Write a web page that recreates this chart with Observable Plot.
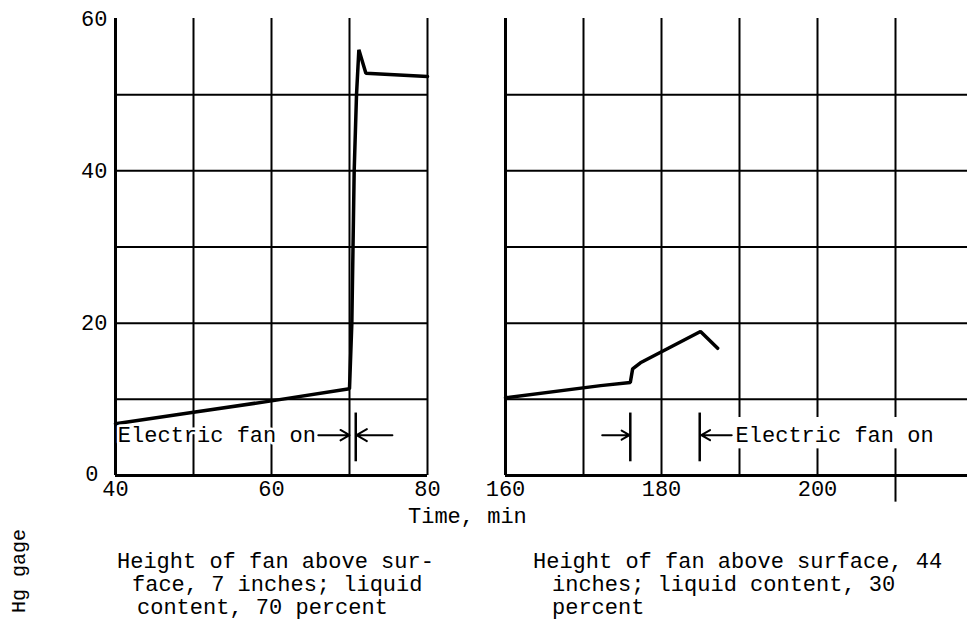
<!DOCTYPE html>
<html>
<head>
<meta charset="utf-8">
<script src="https://cdn.jsdelivr.net/npm/d3@7"></script>
<script src="https://cdn.jsdelivr.net/npm/@observablehq/plot@0.6"></script>
<style>
  html, body { margin: 0; padding: 0; background: white; }
  #wrap { position: relative; width: 967px; height: 626px; overflow: hidden; background: white;
          font-family: "Liberation Mono", "DejaVu Sans Mono", monospace; color: #000; }
  .panel { position: absolute; top: 0; }
  .txt { position: absolute; font-size: 22px; line-height: 23px; white-space: pre; }
</style>
</head>
<body>
<div id="wrap"></div>
<script>
// ---- data ----
// Left panel: fan 7 in. above surface, 70 percent liquid
const leftTime = [40, 50, 60, 70, 70.3, 70.6, 70.9, 71.2, 72.1, 80];
const leftHg   = [6.8, 8.3, 9.8, 11.4, 20, 40, 50, 55.9, 52.8, 52.4];
// Right panel: fan 44 in. above surface, 30 percent liquid
const rightTime = [160, 172.2, 176.0, 176.3, 177.3, 185.0, 187.2];
const rightHg   = [10.2, 11.8, 12.2, 14.0, 14.8, 18.9, 16.7];

const leftXTicks = [40, 60, 80];
const rightXTicks = [160, 180, 200];
const yTicks = [20, 40, 60];
const yZeroTick = [0];
const leftGridX = [50, 60, 70, 80];
const rightGridFullX = [170, 180];
const rightGridBrokenX = [190, 200, 210];
const gridY = [10, 20, 30, 40, 50];

const fanLabel = "Electric fan on";
const leftFanArrowX1 = [66.0, 75.5];
const leftFanArrowX2 = [70.0, 70.9];
const leftFanBarX = [70.8];
const leftFanLabelX = [40.3];
const rightFanArrowX1 = [172.4, 189.0];
const rightFanArrowX2 = [175.9, 185.1];
const rightFanBarX = [176.0, 184.9];
const rightFanLabelX = [189.5];
const fanArrowY = 5.3;
const fanBarY = [1.8, 8.2];
const gridGapY = [3.5, 7.6];
const tickStubY = -3.5;

const xLabel = "Time, min";
const yLabel = "Hg gage";
const leftCaption = ["Height of fan above sur-", "face, 7 inches; liquid", "content, 70 percent"];
const rightCaption = ["Height of fan above surface, 44", "inches; liquid content, 30", "percent"];

// ---- drawing ----
const font = "'Liberation Mono', 'DejaVu Sans Mono', monospace";
const style = {fontFamily: font, fontSize: "22px", background: "white", overflow: "visible", color: "black"};
const yDomain = [0, 60];

const leftLine = leftTime.map((t, i) => ({t, v: leftHg[i]}));
const rightLine = rightTime.map((t, i) => ({t, v: rightHg[i]}));

const leftPlot = Plot.plot({
  width: 480, height: 540,
  marginLeft: 115, marginRight: 53, marginTop: 18, marginBottom: 65,
  x: {domain: [40, 80]},
  y: {domain: yDomain},
  style,
  marks: [
    Plot.ruleX(leftGridX, {strokeWidth: 2}),
    Plot.ruleY(gridY, {strokeWidth: 2}),
    Plot.ruleX([40], {strokeWidth: 3}),
    Plot.ruleY([0], {strokeWidth: 3}),
    Plot.axisX({ticks: leftXTicks, tickSize: 0, tickPadding: 5, fontSize: 22, label: null}),
    Plot.axisY({ticks: yTicks, tickSize: 0, tickPadding: 8, fontSize: 22, label: null}),
    Plot.axisY({ticks: yZeroTick, tickSize: 0, tickPadding: 17, fontSize: 22, label: null, dy: -2}),
    Plot.line(leftLine, {x: "t", y: "v", strokeWidth: 3.5, strokeLinejoin: "miter"}),
    Plot.text(leftFanLabelX, {x: d => d, y: () => fanArrowY, text: () => fanLabel, textAnchor: "start", fontSize: 22, stroke: "white", strokeWidth: 5, fill: "black"}),
    Plot.arrow(leftFanArrowX1, {x1: d => d, x2: (d, i) => leftFanArrowX2[i], y1: () => fanArrowY, y2: () => fanArrowY, strokeWidth: 2, headLength: 9}),
    Plot.ruleX(leftFanBarX, {y1: () => fanBarY[0], y2: () => fanBarY[1], strokeWidth: 2.5})
  ]
});

const rightPlot = Plot.plot({
  width: 487, height: 540,
  marginLeft: 25, marginRight: 0, marginTop: 18, marginBottom: 65,
  x: {domain: [160, 160 + 462 / 7.8]},
  y: {domain: yDomain, axis: null},
  style,
  marks: [
    Plot.ruleX(rightGridFullX, {strokeWidth: 2}),
    Plot.ruleX(rightGridBrokenX, {y1: () => gridGapY[1], y2: () => 60, strokeWidth: 2}),
    Plot.ruleX(rightGridBrokenX, {y1: d => d === 210 ? tickStubY : 0, y2: () => gridGapY[0], strokeWidth: 2}),
    Plot.ruleY(gridY, {strokeWidth: 2}),
    Plot.ruleX([160], {strokeWidth: 3}),
    Plot.ruleY([0], {strokeWidth: 3}),
    Plot.axisX({ticks: rightXTicks, tickSize: 0, tickPadding: 5, fontSize: 22, label: null}),
    Plot.line(rightLine, {x: "t", y: "v", strokeWidth: 3.5, strokeLinejoin: "miter"}),
    Plot.text(rightFanLabelX, {x: d => d, y: () => fanArrowY, text: () => fanLabel, textAnchor: "start", fontSize: 22, fill: "black"}),
    Plot.arrow(rightFanArrowX1, {x1: d => d, x2: (d, i) => rightFanArrowX2[i], y1: () => fanArrowY, y2: () => fanArrowY, strokeWidth: 2, headLength: 9}),
    Plot.ruleX(rightFanBarX, {y1: () => fanBarY[0], y2: () => fanBarY[1], strokeWidth: 2.5})
  ]
});

const wrap = document.getElementById("wrap");
leftPlot.classList.add("panel");
leftPlot.style.left = "0px";
rightPlot.classList.add("panel");
rightPlot.style.left = "480px";
wrap.appendChild(leftPlot);
wrap.appendChild(rightPlot);

function addText(str, left, top, extra) {
  const d = document.createElement("div");
  d.className = "txt";
  d.textContent = str;
  d.style.left = left + "px";
  d.style.top = top + "px";
  if (extra) Object.assign(d.style, extra);
  wrap.appendChild(d);
  return d;
}
addText(xLabel, 408, 508, {lineHeight: "20px"});
addText(yLabel, -30, 560, {transform: "rotate(-90deg)", fontSize: "20px", lineHeight: "22px", width: "100px", textAlign: "center"});
const leftIndent = [117, 132, 137];
leftCaption.forEach((s, i) => addText(s, leftIndent[i], 551 + i * 23));
const rightIndent = [533, 552, 552];
rightCaption.forEach((s, i) => addText(s, rightIndent[i], 551 + i * 23));
</script>
</body>
</html>
